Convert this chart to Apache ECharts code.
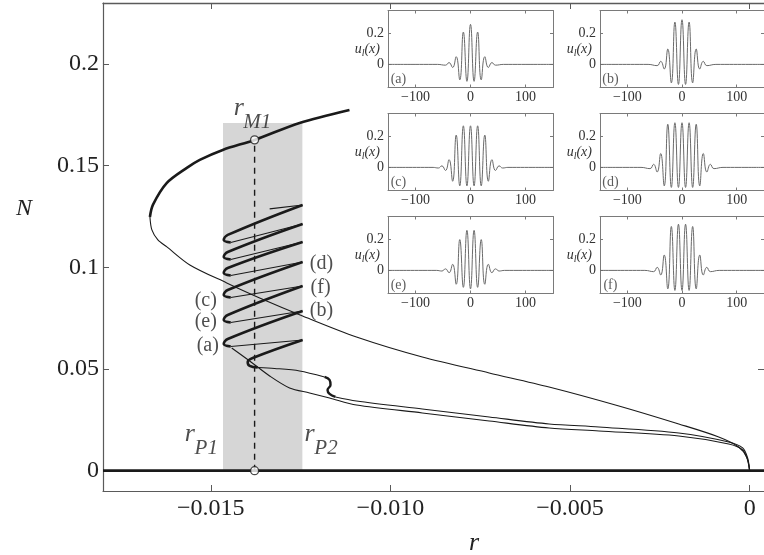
<!DOCTYPE html>
<html><head><meta charset="utf-8">
<script src="https://cdn.jsdelivr.net/npm/echarts@6/dist/echarts.min.js"></script>
<style>html,body{margin:0;padding:0;background:#fff}#c{width:764px;height:555px}</style>
</head><body><div id="c"></div>
<script>
// ---------------- DATA ----------------
const xTickValues = [-0.015, -0.010, -0.005, 0];
const xTickLabels = ['\u22120.015', '\u22120.010', '\u22120.005', '0'];
const yTickValues = [0, 0.05, 0.1, 0.15, 0.2];
const yTickLabels = ['0', '0.05', '0.1', '0.15', '0.2'];

const pinningRegion = [-0.01466, -0.01245];   // r_P1, r_P2
const pinningTop = 0.171;
const rM1 = -0.01378;
const nM1 = 0.1627;
const trivialBranch = [[-0.018, 0], [0.0004, 0]];
const maxwellLine = [[rM1, 0], [rM1, nM1]];
const markerPoints = [[rM1, nM1], [rM1, 0]];

// fold (uniform state) branch: thick stable part, thin unstable part
const foldUpper = [[-0.011139,0.17742],[-0.012528,0.17103],[-0.013778,0.16267],[-0.014667,0.15775],
  [-0.015306,0.15283],[-0.015667,0.14890],[-0.016222,0.14150],[-0.016611,0.13069],[-0.016694,0.12479]];
const foldLower = [[-0.016694,0.12479],[-0.016639,0.11840],[-0.016472,0.11348],[-0.016222,0.11004],
  [-0.015583,0.10118],[-0.014556,0.09233],[-0.013639,0.08495],[-0.012444,0.07609],[-0.010944,0.06577],
  [-0.009111,0.05593],[-0.007250,0.04806],[-0.005583,0.04117],[-0.003639,0.03183],[-0.001972,0.02297],
  [-0.000861,0.01658],[-0.000306,0.01166],[-0.000083,0.00674],[0,0]];

// snaking branch of localized states
const snakeStart = [[0,0],[-0.000056,0.00625],[-0.000194,0.01117],[-0.000583,0.01411],[-0.001972,0.01854],
  [-0.004194,0.02150],[-0.005583,0.02297],[-0.007250,0.02642],[-0.009111,0.03035],[-0.010944,0.03428],
  [-0.011528,0.03625]];
const snakeWiggle = [[-0.011528,0.03625],[-0.011694,0.03773],[-0.011750,0.03970],[-0.011667,0.04216],
  [-0.011694,0.04462],[-0.011833,0.04609]];
const snakeLow = [[-0.011833,0.04609],[-0.012528,0.04904],[-0.013222,0.05027],[-0.013694,0.05076]];
const snakeThick = [
  [[-0.013694,0.05076],[-0.013917,0.05150],[-0.013972,0.05347],[-0.013833,0.05543],[-0.012444,0.06429]],
  [[-0.014444,0.06109],[-0.014639,0.06232],[-0.014528,0.06478],[-0.012444,0.07855]],
  [[-0.014444,0.07290],[-0.014639,0.07413],[-0.014528,0.07659],[-0.012444,0.09085]],
  [[-0.014444,0.08519],[-0.014639,0.08642],[-0.014528,0.08888],[-0.012444,0.10266]],
  [[-0.014444,0.09601],[-0.014639,0.09724],[-0.014528,0.09970],[-0.012444,0.11249]],
  [[-0.014444,0.10388],[-0.014639,0.10512],[-0.014528,0.10757],[-0.012444,0.12135]],
  [[-0.014444,0.11225],[-0.014639,0.11348],[-0.014528,0.11594],[-0.012444,0.13069]]
];
const snakeThin = [
  [[-0.012444,0.06429],[-0.014444,0.06109]],
  [[-0.012444,0.07855],[-0.014444,0.07290]],
  [[-0.012444,0.09085],[-0.014444,0.08519]],
  [[-0.012444,0.10266],[-0.014444,0.09601]],
  [[-0.012444,0.11249],[-0.014444,0.10388]],
  [[-0.012444,0.12135],[-0.014444,0.11225]],
  [[-0.012444,0.13069],[-0.013361,0.12873]]
];
const snakeSecond = [[0,0],[-0.000056,0.00527],[-0.000194,0.01018],[-0.000583,0.01313],[-0.001972,0.01707],
  [-0.004194,0.01953],[-0.005583,0.02100],[-0.007250,0.02445],[-0.009111,0.02839],[-0.010944,0.03232],
  [-0.011694,0.03576],[-0.012250,0.03822],[-0.012806,0.04068],[-0.013361,0.04658],[-0.013917,0.05396],
  [-0.014417,0.06036]];

// text annotations [r, N]
const caseLabels = ['(a)','(b)','(c)','(d)','(e)','(f)'];
const caseLabelPos = [[-0.015083,0.06134],[-0.011917,0.07855],[-0.015139,0.08347],
  [-0.011917,0.10167],[-0.015139,0.07314],[-0.011944,0.08986]];
const symbolLabels = ['r','M1','r','P1','r','P2'];
const symbolLabelPos = [[-0.014222,0.17840],[-0.013708,0.17127],[-0.015583,0.01781],
  [-0.015125,0.01067],[-0.012250,0.01781],[-0.011792,0.01067]];

// insets: profiles u_l(x)
const insetTickValues = [-100, 0, 100];
const insetTickLabels = ['\u2212100', '0', '100'];
const insetYTickValues = [0, 0.2];
const insetYTickLabels = ['0', '0.2'];
const insetA = [[-150,0],[-60,0],[-45.5,-0.005],[-39,0.012],[-32.5,-0.02],[-26,0.05],[-19.5,-0.1],[-13,0.21],
  [-6.5,-0.11],[0,0.26],[6.5,-0.11],[13,0.21],[19.5,-0.1],[26,0.05],[32.5,-0.02],[39,0.012],[45.5,-0.005],[60,0],[150,0]];
const insetB = [[-150,0],[-62,0],[-45.5,-0.008],[-39,0.02],[-32.5,-0.03],[-26,0.1],[-19.5,-0.12],[-13,0.275],
  [-6.5,-0.13],[0,0.29],[6.5,-0.13],[13,0.275],[19.5,-0.12],[26,0.1],[32.5,-0.03],[39,0.02],[45.5,-0.008],[62,0],[150,0]];
const insetC = [[-150,0],[-68,0],[-58.5,-0.004],[-52,0.01],[-45.5,-0.02],[-39,0.05],[-32.5,-0.09],[-26,0.21],
  [-19.5,-0.12],[-13,0.27],[-6.5,-0.12],[0,0.27],[6.5,-0.12],[13,0.27],[19.5,-0.12],[26,0.21],[32.5,-0.09],
  [39,0.05],[45.5,-0.02],[52,0.01],[58.5,-0.004],[68,0],[150,0]];
const insetD = [[-150,0],[-75,0],[-58.5,-0.008],[-52,0.02],[-45.5,-0.03],[-39,0.09],[-32.5,-0.12],[-26,0.28],
  [-19.5,-0.13],[-13,0.29],[-6.5,-0.13],[0,0.29],[6.5,-0.13],[13,0.29],[19.5,-0.13],[26,0.28],[32.5,-0.12],
  [39,0.09],[45.5,-0.03],[52,0.02],[58.5,-0.008],[75,0],[150,0]];
const insetE = [[-150,0],[-62,0],[-52,-0.004],[-45.5,0.01],[-39,-0.015],[-32.5,0.04],[-26,-0.09],[-19.5,0.2],
  [-13,-0.11],[-6.5,0.26],[0,-0.12],[6.5,0.26],[13,-0.11],[19.5,0.2],[26,-0.09],[32.5,0.04],[39,-0.015],
  [45.5,0.01],[52,-0.004],[62,0],[150,0]];
const insetF = [[-150,0],[-68,0],[-52,-0.008],[-45.5,0.02],[-39,-0.03],[-32.5,0.1],[-26,-0.12],[-19.5,0.285],
  [-13,-0.13],[-6.5,0.3],[0,-0.13],[6.5,0.3],[13,-0.13],[19.5,0.285],[26,-0.12],[32.5,0.1],[39,-0.03],
  [45.5,0.02],[52,-0.008],[68,0],[150,0]];
const insetLabelPos = [-131, -0.099];

// ---------------- CHART ----------------
const SERIF = '"Liberation Serif","DejaVu Serif",serif';
const INK = '#1a1a1a';
const AXC = '#5a5a5a';
const INC = '#7a7a7a';
function pick(values, labels, v) {
  let b = 0;
  for (let i = 1; i < values.length; i++) if (Math.abs(values[i] - v) < Math.abs(values[b] - v)) b = i;
  return labels[b];
}
const chart = echarts.init(document.getElementById('c'));

const grids = [{left: 103, top: 3, right: -1.4, bottom: 64}];
const xAxes = [
  {gridIndex: 0, type: 'value', min: -0.018, max: 0.0004, position: 'bottom',
   axisLine: {show: true, onZero: false, lineStyle: {color: AXC, width: 1.2}},
   axisTick: {show: true, inside: true, length: 6, customValues: xTickValues, lineStyle: {color: AXC}},
   axisLabel: {show: true, customValues: xTickValues, formatter: v => pick(xTickValues, xTickLabels, v),
     fontFamily: SERIF, fontSize: 24, color: '#222', margin: 6},
   splitLine: {show: false}},
  {gridIndex: 0, type: 'value', min: -0.018, max: 0.0004, position: 'top',
   axisLine: {show: true, onZero: false, lineStyle: {color: AXC, width: 1.4}},
   axisTick: {show: true, inside: true, length: 6, customValues: xTickValues, lineStyle: {color: AXC}},
   axisLabel: {show: false}, splitLine: {show: false}}
];
const yAxes = [
  {gridIndex: 0, type: 'value', min: -0.01, max: 0.23, position: 'left',
   axisLine: {show: true, onZero: false, lineStyle: {color: AXC, width: 1.2}},
   axisTick: {show: true, inside: true, length: 6, customValues: yTickValues, lineStyle: {color: AXC}},
   axisLabel: {show: true, customValues: yTickValues, formatter: v => pick(yTickValues, yTickLabels, v),
     fontFamily: SERIF, fontSize: 24, color: '#222', margin: 4},
   splitLine: {show: false}},
  {gridIndex: 0, type: 'value', min: -0.01, max: 0.23, position: 'right',
   axisLine: {show: true, onZero: false, lineStyle: {color: AXC}},
   axisTick: {show: true, inside: true, length: 6, customValues: yTickValues, lineStyle: {color: AXC}},
   axisLabel: {show: false}, splitLine: {show: false}}
];

const series = [];
const baseLine = {type: 'line', symbol: 'none', showSymbol: false, silent: true, animation: false,
  xAxisIndex: 0, yAxisIndex: 0, clip: false};

// grey pinning band
series.push(Object.assign({}, baseLine, {data: [[pinningRegion[0], 0]], lineStyle: {opacity: 0}, z: 1,
  markArea: {silent: true, itemStyle: {color: '#d6d6d6'},
    data: [[{coord: [pinningRegion[0], 0]}, {coord: [pinningRegion[1], pinningTop]}]]}}));
// Maxwell dashed line
series.push(Object.assign({}, baseLine, {data: maxwellLine, z: 3,
  lineStyle: {color: INK, width: 1.4, type: [6, 5]}}));
// trivial state
series.push(Object.assign({}, baseLine, {data: trivialBranch, z: 4, lineStyle: {color: INK, width: 2.6}}));
// fold branch
series.push(Object.assign({}, baseLine, {data: foldUpper, smooth: 0.3, z: 4, lineStyle: {color: INK, width: 2.6}}));
series.push(Object.assign({}, baseLine, {data: foldLower, smooth: 0.3, z: 4, lineStyle: {color: INK, width: 1.1}}));
// snakes
series.push(Object.assign({}, baseLine, {data: snakeStart, smooth: 0.3, z: 4, lineStyle: {color: INK, width: 1.1}}));
series.push(Object.assign({}, baseLine, {data: snakeSecond, smooth: 0.3, z: 4, lineStyle: {color: INK, width: 1.1}}));
series.push(Object.assign({}, baseLine, {data: snakeWiggle, smooth: 0.4, z: 4, lineStyle: {color: INK, width: 2.4}}));
series.push(Object.assign({}, baseLine, {data: snakeLow, smooth: 0.3, z: 4, lineStyle: {color: INK, width: 1.1}}));
snakeThick.forEach(seg => series.push(Object.assign({}, baseLine, {data: seg, smooth: 0.4, z: 5,
  lineStyle: {color: INK, width: 2.6}})));
snakeThin.forEach(seg => series.push(Object.assign({}, baseLine, {data: seg, z: 4,
  lineStyle: {color: INK, width: 1.1}})));
// circle markers
series.push({type: 'scatter', xAxisIndex: 0, yAxisIndex: 0, data: markerPoints, symbol: 'circle', symbolSize: 8,
  silent: true, animation: false, z: 10, itemStyle: {color: '#fff', borderColor: INK, borderWidth: 1.3}});
// annotations
const annData = [];
caseLabels.forEach((t, i) => annData.push({value: caseLabelPos[i],
  label: {formatter: t, fontSize: 20, fontStyle: 'normal'}}));
symbolLabels.forEach((t, i) => annData.push({value: symbolLabelPos[i],
  label: {formatter: t, fontSize: t === 'r' ? 26 : 21, fontStyle: 'italic'}}));
series.push({type: 'scatter', xAxisIndex: 0, yAxisIndex: 0, data: annData, symbolSize: 1, silent: true,
  animation: false, z: 11, clip: false, itemStyle: {color: 'transparent'},
  label: {show: true, position: 'inside', color: '#222', fontFamily: SERIF}});

// insets
const insetWaves = [insetA, insetB, insetC, insetD, insetE, insetF];
const insetBoxes = [[388, 10.5], [600, 10.5], [388, 113.5], [600, 113.5], [388, 216.5], [600, 216.5]];
insetWaves.forEach((wave, i) => {
  const g = i + 1;
  grids.push({left: insetBoxes[i][0], top: insetBoxes[i][1], width: 165, height: 77,
    show: true, backgroundColor: '#fff', borderWidth: 0, z: 20});
  const xi = xAxes.length, yi = yAxes.length;
  const xCommon = {gridIndex: g, type: 'value', min: -150, max: 150, z: 21,
    axisLine: {show: true, onZero: false, lineStyle: {color: INC, width: 1}}, splitLine: {show: false}};
  xAxes.push(Object.assign({}, xCommon, {position: 'bottom',
    axisTick: {show: true, inside: true, length: 3, customValues: insetTickValues, lineStyle: {color: INC}},
    axisLabel: {show: true, customValues: insetTickValues, formatter: v => pick(insetTickValues, insetTickLabels, v),
      fontFamily: SERIF, fontSize: 14, color: '#333', margin: 3}}));
  xAxes.push(Object.assign({}, xCommon, {position: 'top',
    axisTick: {show: true, inside: true, length: 3, customValues: insetTickValues, lineStyle: {color: INC}},
    axisLabel: {show: false}}));
  const yCommon = {gridIndex: g, type: 'value', min: -0.15, max: 0.35, z: 21,
    axisLine: {show: true, onZero: false, lineStyle: {color: INC, width: 1}}, splitLine: {show: false}};
  yAxes.push(Object.assign({}, yCommon, {position: 'left',
    axisTick: {show: true, inside: true, length: 3, customValues: insetYTickValues, lineStyle: {color: INC}},
    axisLabel: {show: true, customValues: insetYTickValues, formatter: v => pick(insetYTickValues, insetYTickLabels, v),
      fontFamily: SERIF, fontSize: 14, color: '#333', margin: 4},
    name: '{u|u}{l|l}{x|(x)}', nameLocation: 'middle', nameRotate: 0, nameGap: 8, nameMoveOverlap: false,
    nameTextStyle: {color: '#333', fontFamily: SERIF, rich: {
      u: {fontFamily: SERIF, fontStyle: 'italic', fontSize: 14, color: '#333', lineHeight: 18, verticalAlign: 'middle'},
      l: {fontFamily: SERIF, fontStyle: 'italic', fontSize: 10, color: '#333', lineHeight: 18, verticalAlign: 'bottom'},
      x: {fontFamily: SERIF, fontStyle: 'italic', fontSize: 14, color: '#333', lineHeight: 18, verticalAlign: 'middle'}}}}));
  yAxes.push(Object.assign({}, yCommon, {position: 'right',
    axisTick: {show: true, inside: true, length: 3, customValues: insetYTickValues, lineStyle: {color: INC}},
    axisLabel: {show: false}}));
  series.push({type: 'line', xAxisIndex: xi, yAxisIndex: yi, data: wave, smooth: 0.5, symbol: 'none',
    showSymbol: false, silent: true, animation: false, z: 22, lineStyle: {color: '#6a6a6a', width: 1}});
  series.push({type: 'scatter', xAxisIndex: xi, yAxisIndex: yi, data: [{value: insetLabelPos}],
    symbolSize: 1, silent: true, animation: false, z: 23, itemStyle: {color: 'transparent'},
    label: {show: true, position: 'inside', formatter: caseLabels[i], fontFamily: SERIF, fontSize: 14, color: '#333'}});
});

chart.setOption({
  animation: false,
  backgroundColor: '#fff',
  grid: grids,
  xAxis: xAxes,
  yAxis: yAxes,
  series: series,
  graphic: [
    {type: 'text', x: 24, y: 209, silent: true,
     style: {text: 'N', font: 'italic 24px "Liberation Serif"', fill: '#222', align: 'center', verticalAlign: 'middle'}},
    {type: 'text', x: 474, y: 543, silent: true,
     style: {text: 'r', font: 'italic 26px "Liberation Serif"', fill: '#222', align: 'center', verticalAlign: 'middle'}}
  ]
});
</script>
</body></html>
